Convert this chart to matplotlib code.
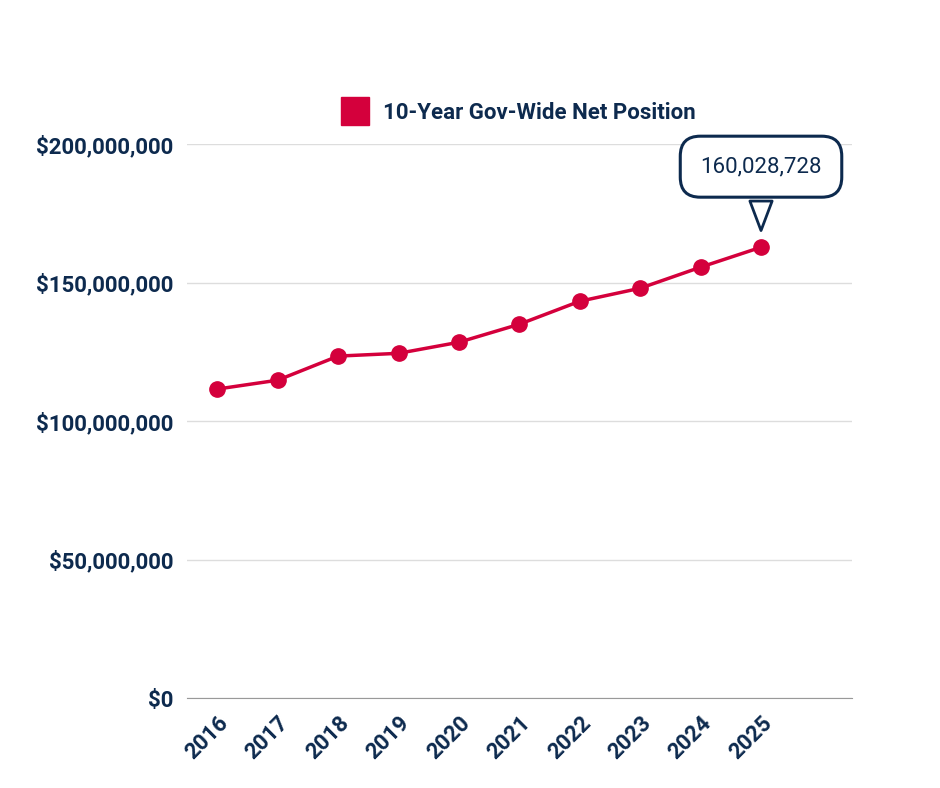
import matplotlib
matplotlib.use("Agg")
import matplotlib.pyplot as plt
from matplotlib.ticker import FuncFormatter

years = ["2016","2017","2018","2019","2020","2021","2022","2023","2024","2025"]
values = [111.6e6, 114.8e6, 123.5e6, 124.5e6, 128.5e6, 135.0e6, 143.3e6, 148.0e6, 155.6e6, 162.8e6]
label_text = "160,028,728"

navy = "#0d2a4e"
red = "#d4003c"
plt.rcParams['font.family'] = ['Roboto', 'DejaVu Sans']

fig = plt.figure(figsize=(9.4, 7.88), dpi=100)
ax = fig.add_axes([0.199, 0.114, 0.707, 0.703])
x = list(range(len(years)))
ax.plot(x, values, color=red, lw=2.5, marker='o', ms=11, clip_on=False, zorder=3)
ax.set_xlim(-0.5, 10.5)
ax.set_ylim(0, 200e6)
ax.set_yticks([0, 50e6, 100e6, 150e6, 200e6])
ax.yaxis.set_major_formatter(FuncFormatter(lambda v, p: "${:,.0f}".format(v)))
ax.set_xticks(x)
ax.set_xticklabels(years, rotation=45, ha='right', rotation_mode='anchor')
for lab in ax.get_xticklabels() + ax.get_yticklabels():
    lab.set_color(navy); lab.set_fontweight('bold'); lab.set_fontsize(16)
ax.tick_params(length=0, pad=10)
ax.grid(axis='y', color='#dddddd', lw=1)
for s in ['top', 'right', 'left']:
    ax.spines[s].set_visible(False)
ax.spines['bottom'].set_color('#999999')
ax.set_axisbelow(True)

ax.annotate(label_text, xy=(x[-1], values[-1]), xytext=(0, 58), textcoords='offset points',
            ha='center', va='center', fontsize=16, color=navy,
            bbox=dict(boxstyle='round,pad=0.9', fc='white', ec=navy, lw=2.2),
            arrowprops=dict(arrowstyle='wedge,tail_width=1.0', fc='white', ec=navy, lw=2,
                            shrinkB=12))

leg = fig.legend(handles=[plt.Line2D([], [], marker='s', ls='', color=red, ms=20)],
                 labels=["10-Year Gov-Wide Net Position"], loc='center',
                 bbox_to_anchor=(0.547, 0.857), frameon=False, handletextpad=0.3,
                 prop=dict(weight='bold', size=16))
for t in leg.get_texts():
    t.set_color(navy)
fig.savefig("out.png", dpi=100, facecolor='white')
